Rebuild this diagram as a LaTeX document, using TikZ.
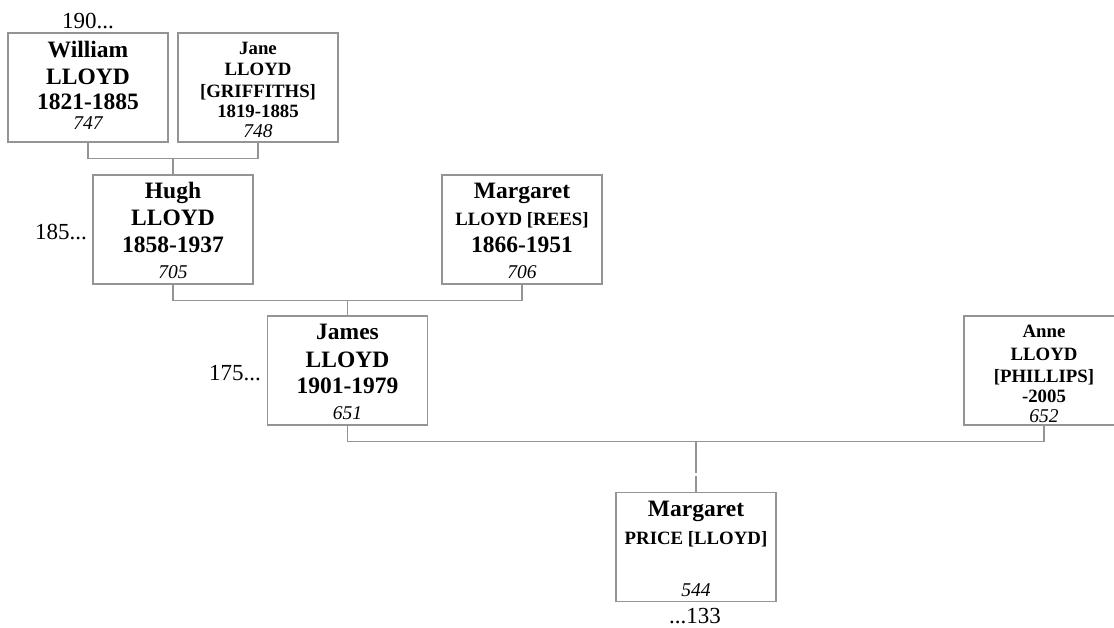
\documentclass[tikz,border=0pt]{standalone}
\usepackage{fontspec}
\setmainfont{Liberation Serif}
\begin{document}
\begin{tikzpicture}[x=1pt,y=-1pt,
  person/.style={draw=black!42,line width=1.3pt,minimum width=160pt,minimum height=109pt,inner sep=0pt},
  link/.style={draw=black!42,line width=1.3pt},
  big/.style={anchor=base,inner sep=0pt,font=\bfseries\fontsize{23.5}{24}\selectfont},
  small/.style={anchor=base,inner sep=0pt,font=\bfseries\fontsize{18.8}{20}\selectfont},
  ref/.style={anchor=base,inner sep=0pt,font=\itshape\fontsize{19.5}{20}\selectfont},
  gen/.style={anchor=base,inner sep=0pt,font=\fontsize{23}{24}\selectfont}]
\useasboundingbox (0,0) rectangle (1114,627);
\begin{scope}
\clip (0,0) rectangle (1114,627);
% boxes
\node[person] (will) at (88,87.5) {};
\node[person] (jane) at (258,87.5) {};
\node[person] (hugh) at (173,229.5) {};
\node[person] (marg) at (522,229.5) {};
\node[person] (james) at (347.5,370.5) {};
\node[person] (anne) at (1044,370.5) {};
\node[person] (price) at (696,547) {};
% connectors
\draw[link] (will.south) -- ++(0,16) coordinate (j1) -| (jane.south);
\draw[link] (hugh.north) -- (hugh.north |- j1);
\draw[link] (hugh.south) -- ++(0,16) coordinate (j2) -| (marg.south);
\draw[link] (james.north) -- (james.north |- j2);
\draw[link] (james.south) -- ++(0,16) coordinate (j3) -| (anne.south);
\coordinate (g1) at (696,473);
\coordinate (g2) at (696,476);
\draw[link] (price.north |- j3) -- (g1);
\draw[link] (g2) -- (price.north);
\end{scope}
% William
\node[big] (w1) at (88,57) {William};
\node[big] (w2) at (88,84) {LLOYD};
\node[big] (w3) at (88,109.5) {1821-1885};
\node[ref] (w4) at (88,129.5) {747};
% Jane
\node[small] (ja1) at (258,54) {Jane};
\node[small] (ja2) at (258,75) {LLOYD};
\node[small] (ja3) at (258,97) {[GRIFFITHS]};
\node[small] (ja4) at (258,117) {1819-1885};
\node[ref] (ja5) at (258,137) {748};
% Hugh
\node[big] (h1) at (173,198) {Hugh};
\node[big] (h2) at (173,225) {LLOYD};
\node[big] (h3) at (173,252) {1858-1937};
\node[ref] (h4) at (173,278) {705};
% Margaret Rees
\node[big] (m1) at (522,198) {Margaret};
\node[small] (m2) at (522,225) {LLOYD [REES]};
\node[big] (m3) at (522,252) {1866-1951};
\node[ref] (m4) at (522,278) {706};
% James
\node[big] (jm1) at (347.5,339) {James};
\node[big] (jm2) at (347.5,367) {LLOYD};
\node[big] (jm3) at (347.5,393) {1901-1979};
\node[ref] (jm4) at (347.5,419) {651};
% Anne
\node[small] (a1) at (1044,337) {Anne};
\node[small] (a2) at (1044,360) {LLOYD};
\node[small] (a3) at (1044,382) {[PHILLIPS]};
\node[small] (a4) at (1044,402) {-2005};
\node[ref] (a5) at (1044,422) {652};
% Margaret Price
\node[big] (p1) at (696,516) {Margaret};
\node[small] (p2) at (696,544) {PRICE [LLOYD]};
\node[ref] (p3) at (696,596) {544};
% generation labels
\node[gen] (l1) at (88,28) {190...};
\node[gen,anchor=base east] (l2) at (87,239) {185...};
\node[gen,anchor=base east] (l3) at (261,380) {175...};
\node[gen] (l4) at (695,623) {...133};
\end{tikzpicture}
\end{document}
